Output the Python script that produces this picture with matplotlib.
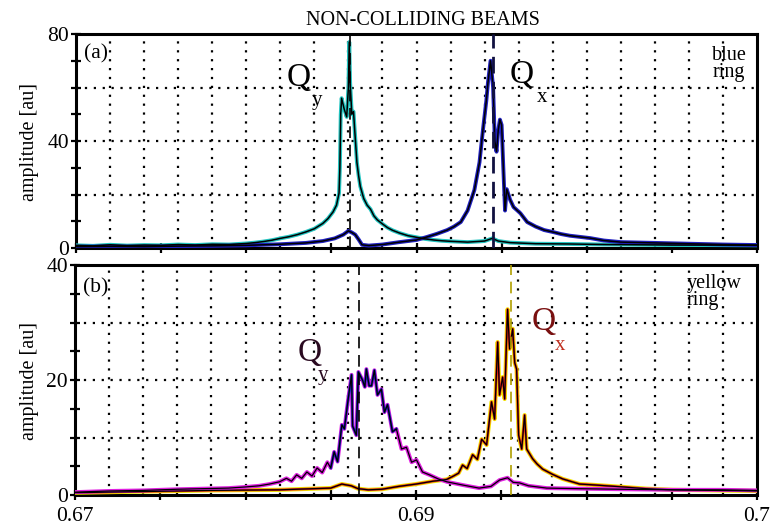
import numpy as np
import matplotlib
matplotlib.use("Agg")
import matplotlib.pyplot as plt

plt.rcParams['font.family'] = ['Liberation Serif', 'DejaVu Serif']

# ---- data ----
# panel (a), blue ring: vertical plane trace (cyan + black)
xa_v = [0.6700, 0.6710, 0.6720, 0.6730, 0.6740, 0.6750, 0.6760, 0.6770, 0.6780, 0.6790,
        0.6800, 0.6805, 0.6810, 0.6815, 0.6820, 0.6825, 0.6830, 0.6835, 0.6840, 0.6845,
        0.6848, 0.6851, 0.6853, 0.68545, 0.6855, 0.68555, 0.6856, 0.68575, 0.6859, 0.6860,
        0.68605, 0.6861, 0.6862, 0.6863, 0.68635, 0.6865, 0.6866, 0.6867, 0.6869, 0.6871,
        0.6873, 0.6875, 0.6877, 0.6880, 0.6883, 0.6886, 0.6890, 0.6895, 0.6900, 0.6905,
        0.6910, 0.6915, 0.6920, 0.6930, 0.6940, 0.69445, 0.6948, 0.6955, 0.6970, 0.6990,
        0.7010, 0.7030, 0.7050, 0.7070, 0.7100]
ya_v = [1.0, 0.8, 1.2, 0.9, 1.1, 1.0, 1.3, 1.1, 1.4, 1.3,
        1.7, 2.0, 2.4, 2.9, 3.6, 4.2, 5.0, 6.0, 7.2, 9.2,
        11.0, 13.5, 16.0, 20.5, 30.0, 50.0, 56.0, 52.0, 49.0, 60.0,
        77.0, 62.0, 50.0, 51.0, 46.0, 32.0, 27.0, 23.0, 18.5, 16.0,
        14.5, 12.0, 10.5, 9.0, 7.6, 6.6, 5.6, 4.6, 4.0, 3.4,
        3.0, 2.7, 2.5, 2.2, 2.6, 3.6, 2.6, 2.0, 1.6, 1.5,
        1.3, 1.2, 1.1, 1.1, 1.0]

# panel (a), blue ring: horizontal plane trace (blue + black)
xa_h = [0.6700, 0.6720, 0.6740, 0.6760, 0.6780, 0.6800, 0.6820, 0.6835, 0.6845, 0.6852,
        0.6857, 0.6860, 0.6862, 0.6864, 0.6866, 0.6868, 0.6872, 0.6880, 0.6890, 0.6900,
        0.6906, 0.6912, 0.6918, 0.6922, 0.6926, 0.6930, 0.6934, 0.6937, 0.6939, 0.6941,
        0.6942, 0.69435, 0.6945, 0.6946, 0.6947, 0.6948, 0.6949, 0.6950, 0.6951, 0.6952,
        0.6953, 0.6955, 0.6957, 0.6961, 0.6965, 0.6970, 0.6975, 0.6980, 0.6985, 0.6990,
        0.6998, 0.7002, 0.7010, 0.7020, 0.7040, 0.7060, 0.7080, 0.7100]
ya_h = [0.5, 0.6, 0.5, 0.7, 0.8, 1.0, 1.4, 1.9, 2.6, 3.6,
        5.0, 6.4, 5.8, 5.0, 3.2, 1.2, 0.9, 1.3, 2.2, 3.0,
        4.1, 5.3, 6.7, 8.0, 9.7, 14.0, 21.7, 32.0, 44.0, 55.0,
        62.0, 70.0, 60.0, 40.0, 36.0, 44.0, 48.0, 46.0, 30.0, 14.0,
        22.0, 18.0, 15.3, 13.0, 9.7, 8.0, 6.7, 6.0, 5.2, 4.6,
        4.0, 3.7, 2.8, 2.2, 1.9, 1.6, 1.3, 1.1]

# panel (b), yellow ring: vertical plane trace (magenta + blue + black)
xb_v = [0.6700, 0.6720, 0.6740, 0.6760, 0.6775, 0.6790, 0.6800, 0.6808, 0.6814, 0.6820,
        0.6824, 0.6827, 0.6830, 0.6833, 0.6836, 0.6839, 0.6842, 0.6845, 0.6848, 0.6850,
        0.6852, 0.6854, 0.68565, 0.6858, 0.6860, 0.68622, 0.68628, 0.6865, 0.68662, 0.68686,
        0.68700, 0.68709, 0.68725, 0.68739, 0.68756, 0.68774, 0.68797, 0.68815, 0.68833, 0.68862,
        0.68885, 0.68915, 0.68944, 0.68974, 0.69003, 0.69038, 0.69079, 0.6913, 0.6918, 0.6928,
        0.6937, 0.6944, 0.6949, 0.69537, 0.6957, 0.69608, 0.6966, 0.69767, 0.6995, 0.7020,
        0.7050, 0.7080, 0.7100]
yb_v = [0.5, 0.7, 0.8, 1.0, 1.1, 1.2, 1.4, 1.6, 1.9, 2.3,
        2.9, 2.4, 3.5, 2.9, 4.0, 3.3, 4.7, 3.9, 5.7, 4.7,
        7.5, 5.8, 12.2, 11.5, 16.2, 20.9, 12.0, 10.4, 21.4, 20.0,
        18.8, 21.9, 19.0, 19.0, 21.7, 17.4, 18.4, 14.4, 15.7, 11.0,
        11.5, 8.0, 8.3, 5.7, 6.1, 4.0, 3.5, 2.8, 2.3, 1.7,
        1.2, 1.5, 2.6, 3.0, 2.2, 2.1, 1.6, 1.2, 1.1, 1.0,
        0.9, 0.9, 0.8]

# panel (b), yellow ring: horizontal plane trace (yellow + red + black)
xb_h = [0.6700, 0.6740, 0.6780, 0.6820, 0.6850, 0.68565, 0.6862, 0.6866, 0.6872, 0.6880,
        0.6890, 0.6900, 0.6910, 0.6918, 0.6922, 0.69250, 0.69273, 0.6930, 0.69332, 0.6936,
        0.69385, 0.69414, 0.69443, 0.69461, 0.69479, 0.6949, 0.69508, 0.6952, 0.69537, 0.69549,
        0.69567, 0.69579, 0.6959, 0.69602, 0.6962, 0.69637, 0.69649, 0.69684, 0.6971, 0.69743,
        0.6980, 0.6986, 0.6996, 0.7002, 0.70213, 0.7035, 0.70507, 0.7075, 0.7100]
yb_h = [0.4, 0.6, 0.8, 0.9, 1.2, 1.9, 1.6, 1.1, 0.9, 1.0,
        1.5, 1.9, 2.4, 2.7, 3.3, 3.8, 5.2, 4.6, 7.0, 6.2,
        9.7, 8.7, 16.2, 13.2, 26.6, 17.4, 20.5, 16.7, 32.3, 25.4,
        28.9, 23.0, 21.9, 10.4, 8.0, 13.9, 8.0, 6.3, 5.4, 4.5,
        3.6, 2.8, 1.9, 1.8, 1.4, 1.1, 0.9, 0.8, 0.7]

# tune positions (dashed markers)
tunes_a = [0.6861, 0.69449]
tunes_b = [0.68665, 0.69555]

x_labels = {0.67: '0.67', 0.69: '0.69', 0.71: '0.7'}

fig = plt.figure(figsize=(7.73, 5.29), dpi=100)
ax1 = fig.add_axes([76 / 773, 1 - 248 / 529, 681 / 773, 214 / 529])
ax2 = fig.add_axes([75 / 773, 1 - 495 / 529, 682 / 773, 230 / 529])

grid_kw = dict(color='black', lw=1.6, linestyle=(0, (1, 3)), zorder=1)
for ax, ymax, ystep, hgrid in [(ax1, 80, 10, [20, 40, 60]), (ax2, 40, 5, [10, 20, 30])]:
    ax.set_xlim(0.67, 0.71)
    ax.set_ylim(0, ymax)
    for gx in np.arange(0.672, 0.7085, 0.002):
        ax.axvline(gx, **grid_kw)
    for gy in hgrid:
        ax.axhline(gy, **grid_kw)
    xt = np.arange(0.67, 0.7101, 0.005)
    ax.set_xticks(xt)
    yt = np.arange(0, ymax + 1, ystep)
    ax.set_yticks(yt)
    ax.set_yticklabels([f'{v:g}' if v % (ymax // 2) == 0 else '' for v in yt])
    ax.tick_params(axis='both', direction='inout', length=7, width=1.6,
                   labelsize=15.5, top=False, right=False)
    ax.tick_params(axis='y', pad=1.5)
    ax.tick_params(axis='x', pad=5)
    for sp in ax.spines.values():
        sp.set_linewidth(2.2)

ax1.set_xticklabels([])
ax2.set_xticklabels([x_labels.get(round(v, 3), '') for v in np.arange(0.67, 0.7101, 0.005)])

# panel (a) traces
ax1.plot(xa_v, ya_v, color='#22c4c0', lw=2.8, zorder=3)
ax1.plot(xa_h, ya_h, color='#2020c0', lw=2.8, zorder=3)
ax1.plot(xa_v, ya_v, color='black', lw=1.1, zorder=4)
ax1.plot(xa_h, ya_h, color='black', lw=1.1, zorder=4)
ax1.axvline(tunes_a[0], color='black', lw=1.2, dashes=(7, 4), zorder=5)
ax1.axvline(tunes_a[1], color='#101040', lw=2.0, dashes=(6, 3), zorder=5)

# panel (b) traces; blue only shows around the Qy peak
xb_v_arr = np.array(xb_v)
yb_v_arr = np.array(yb_v)
pk = (xb_v_arr > 0.6848) & (xb_v_arr < 0.6890)
ax2.plot(xb_h, yb_h, color='#f2e600', lw=3.0, zorder=3)
ax2.plot(xb_h, yb_h, color='#e42020', lw=1.7, zorder=3)
ax2.plot(xb_v, yb_v, color='#e020e0', lw=2.8, zorder=3)
ax2.plot(xb_v_arr[pk], yb_v_arr[pk], color='#2020c0', lw=1.8, zorder=3)
ax2.plot(xb_v, yb_v, color='black', lw=0.9, zorder=4)
ax2.plot(xb_h, yb_h, color='black', lw=0.9, zorder=4)
ax2.axvline(tunes_b[0], color='black', lw=1.2, dashes=(7, 4), zorder=5)
ax2.axvline(tunes_b[1], color='#b0a000', lw=1.2, dashes=(7, 4), zorder=5)

# annotations
ax1.text(0.012, 0.905, '(a)', transform=ax1.transAxes, fontsize=15.5, va='center', ha='left')
ax2.text(0.012, 0.902, '(b)', transform=ax2.transAxes, fontsize=15.5, va='center', ha='left')
ax1.text(0.934, 0.945, 'blue\nring', transform=ax1.transAxes, fontsize=14.5,
         va='top', ha='left', linespacing=0.85)
ax2.text(0.897, 0.962, 'yellow\nring', transform=ax2.transAxes, fontsize=14.5,
         va='top', ha='left', linespacing=0.85)

ax1.text(0.68239, 60.5, 'Q', fontsize=24, va='baseline', ha='left')
ax1.text(0.68386, 53.5, 'y', fontsize=15, va='baseline', ha='left')
ax1.text(0.69549, 61.7, 'Q', fontsize=24, va='baseline', ha='left')
ax1.text(0.69708, 54.6, 'x', fontsize=15, va='baseline', ha='left')
ax2.text(0.68308, 23.3, 'Q', fontsize=24, va='baseline', ha='left', color='#2a0a20')
ax2.text(0.68425, 20.0, 'y', fontsize=15, va='baseline', ha='left', color='#2a0a20')
ax2.text(0.69680, 28.7, 'Q', fontsize=24, va='baseline', ha='left', color='#7a1010')
ax2.text(0.69815, 25.2, 'x', fontsize=15, va='baseline', ha='left', color='#c03020')

fig.text(423 / 773, 1 - 25 / 529, 'NON-COLLIDING BEAMS', fontsize=14.5, ha='center', va='baseline')
fig.text(29.5 / 773, 1 - 142 / 529, 'amplitude [au]', rotation=90, fontsize=14.5, ha='center', va='center')
fig.text(29.5 / 773, 1 - 381 / 529, 'amplitude [au]', rotation=90, fontsize=14.5, ha='center', va='center')

fig.savefig('out.png', dpi=100)
